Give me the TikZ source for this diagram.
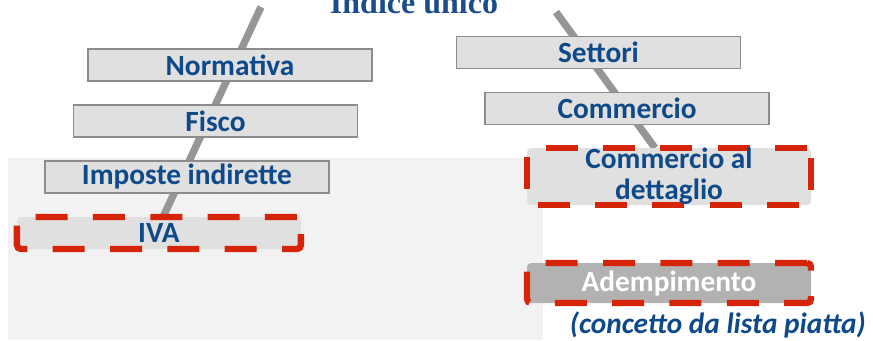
\documentclass[tikz,border=0pt]{standalone}
\usepackage{fontspec}
\setmainfont{Carlito}
\newfontfamily\titlefont{Liberation Serif}
\usetikzlibrary{shapes,arrows}
\definecolor{labelblue}{RGB}{14,73,137}
\definecolor{titleblue}{RGB}{28,76,140}
\definecolor{boxgray}{RGB}{224,224,224}
\definecolor{edgegray}{RGB}{140,140,140}
\definecolor{skewgray}{RGB}{150,150,150}
\definecolor{markred}{RGB}{214,36,8}
\definecolor{panelgray}{RGB}{242,242,242}
\tikzstyle{block} = [rectangle, draw=edgegray, line width=1.1pt, fill=boxgray,
    minimum width=213pt, minimum height=24pt, inner sep=0pt,
    text=labelblue, font=\fontsize{22}{23}\selectfont\bfseries]
\tikzstyle{marked} = [rectangle, draw=markred, line width=4.8pt, fill=boxgray,
    dash pattern=on 24pt off 19pt, rounded corners=3pt,
    minimum width=213pt, minimum height=24pt, inner sep=0pt, align=center,
    text=labelblue, font=\fontsize{22}{23}\selectfont\bfseries]
\tikzstyle{skewer} = [draw=skewgray, line width=5.5pt]

\begin{document}
\begin{tikzpicture}[x=0.75pt, y=-0.75pt]
    \useasboundingbox (0,0) rectangle (873,340);
    \fill [panelgray] (8,158) rectangle (543,340);

        % Skewers behind the two stacks
        \coordinate (topL) at (261,7);
        \coordinate (endL) at (163,217);
        \coordinate (topR) at (556,12);
        \coordinate (endR) at (655,148);
        \path [skewer] (topL) -- (endL);
        \path [skewer] (topR) -- (endR);

        % Place nodes
        \node [block] (norm) at (230,65) {Normativa};
        \node [block, below of=norm, node distance=42pt, xshift=-10.9pt] (fisco) {Fisco};
        \node [block, below of=fisco, node distance=42pt, xshift=-21.4pt] (imposte) {Imposte indirette};
        \node [marked, below of=imposte, node distance=42pt, xshift=-21pt] (iva) {IVA};

        \node [block] (settori) at (598.5,52.5) {Settori};
        \node [block, below of=settori, node distance=42pt, xshift=21.4pt] (comm) {Commercio};
        \node [marked, below of=comm, node distance=51pt, xshift=31.5pt,
               minimum height=42.75pt] (dett) {Commercio al\\ dettaglio};
        \node [marked, below of=dett, node distance=79.9pt, minimum height=30pt,
               fill=gray!60, text=white] (adem) {Adempimento};
        \node [anchor=east, inner sep=0pt, text=labelblue,
               font=\fontsize{22}{23}\selectfont\bfseries\itshape]
            (flat) at (866,325) {(concetto da lista piatta)};

        \node [anchor=base, text=titleblue, font=\titlefont\fontsize{24}{26}\selectfont\bfseries]
            (title) at (414,13) {Indice unico};
    \end{tikzpicture}
\end{document}
